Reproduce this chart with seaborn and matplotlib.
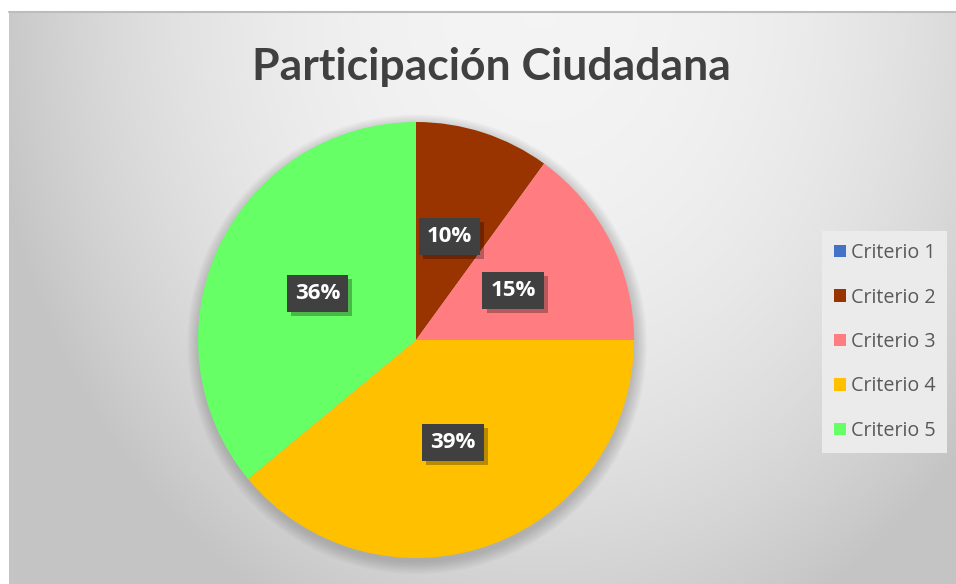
import numpy as np
import matplotlib
matplotlib.use("Agg")
import matplotlib.pyplot as plt
import matplotlib.patheffects as pe
from matplotlib.patches import Circle
import seaborn as sns

categories = ["Criterio 1", "Criterio 2", "Criterio 3", "Criterio 4", "Criterio 5"]
shares = [0, 10, 15, 39, 36]
colors = ["#4472C4", "#993300", "#FF7C80", "#FFC000", "#66FF66"]
title = "Participación Ciudadana"

sns.set_theme(style="white")
plt.rcParams["font.family"] = ["Lato", "DejaVu Sans"]

W, H = 956, 584
fig = plt.figure(figsize=(W / 100, H / 100), dpi=100, facecolor="white")

# chart area background: soft radial gradient, light at the top centre
bg = fig.add_axes([9 / W, 0, (W - 9) / W, (H - 12) / H], zorder=0)
ny, nx = H - 12, W - 9
yy, xx = np.mgrid[0:ny, 0:nx]
d = np.sqrt(((xx - 530) / 530.0) ** 2 + ((yy + 10) / 650.0) ** 2)
d = np.clip(d, 0, 1.05) ** 2.2
light, dark = 0.957, 0.79
img = light + (dark - light) * d
bg.imshow(np.dstack([img, img, img]), aspect="auto", origin="upper",
          extent=[0, 1, 0, 1])
bg.plot([0, 1], [1, 1], color="#bcbcbc", lw=1.5, transform=bg.transAxes, clip_on=False)
bg.set_axis_off()

# pie
cx, cy, r = 416, H - 340, 218
ax = fig.add_axes([(cx - r) / W, (cy - r) / H, 2 * r / W, 2 * r / H], zorder=2)
ax.set_xlim(-1, 1)
ax.set_ylim(-1, 1)
# soft shadow beneath the pie
for k in range(10):
    ax.add_patch(Circle((0.005, -0.02), 1.0 + 0.006 * k, facecolor="#606060",
                        edgecolor="none", alpha=0.035, zorder=0, clip_on=False))
wedges, texts, autotexts = ax.pie(
    shares, colors=colors, startangle=90, counterclock=False,
    radius=1.0, pctdistance=0.5,
    autopct=lambda p: f"{p:.0f}%" if p > 0.5 else "",
    wedgeprops=dict(linewidth=0, zorder=1),
    textprops=dict(color="white", fontsize=16, fontweight="bold",
                   family=["Open Sans", "DejaVu Sans"]),
)
for t in autotexts:
    t.set_zorder(5)
    if t.get_text():
        t.set_bbox(dict(boxstyle="square,pad=0.36", facecolor="#404040", edgecolor="none"))
        t.get_bbox_patch().set_path_effects(
            [pe.SimplePatchShadow(offset=(3, -3), shadow_rgbFace="#000000", alpha=0.28), pe.Normal()])
ax.set_xlim(-1, 1)
ax.set_ylim(-1, 1)
ax.set_axis_off()

fig.text(491 / W, 1 - 67 / H, title, ha="center", va="center",
         fontsize=32, fontweight="bold", color="#404040", zorder=3)

leg = fig.legend(
    wedges, categories, loc="center left", bbox_to_anchor=(822 / W, 1 - 342 / H),
    frameon=True, fancybox=False, facecolor="#ebebeb", edgecolor="none", framealpha=1,
    labelcolor="#595959", handlelength=0.6, handleheight=0.6,
    handletextpad=0.25, labelspacing=1.24, borderpad=0.6, borderaxespad=0,
    prop=dict(family=["Open Sans", "DejaVu Sans"], size=14.2),
)

fig.savefig("out.png", dpi=100, facecolor="white")
